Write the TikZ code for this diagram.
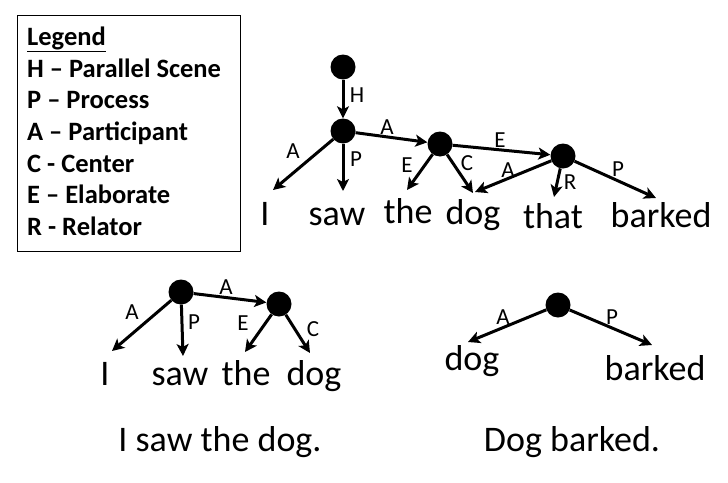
\documentclass[tikz,border=0pt]{standalone}
\usepackage{fontspec}
\setmainfont{Carlito}
\usetikzlibrary{arrows.meta}
\begin{document}
\begin{tikzpicture}[x=1pt,y=-1pt,
  dot/.style={circle,fill=black,inner sep=0pt,minimum size=25pt},
  edge/.style={line width=3pt,-{Stealth[length=12pt,width=12pt,inset=3pt]}},
  word/.style={anchor=base,inner sep=0pt,font=\fontsize{36}{42}\selectfont},
  lab/.style={inner sep=0pt,font=\fontsize{23}{27}\selectfont},
  leg/.style={anchor=base west,inner sep=0pt,font=\fontsize{26.5}{31}\selectfont\bfseries}]
\useasboundingbox (0,0) rectangle (728,482);
% legend
\node[draw,line width=1.2pt,minimum width=223pt,minimum height=236pt,anchor=north west,inner sep=0pt] (legbox) at (17,15) {};
\node[leg] (l0) at (27,45) {\underline{Legend}};
\node[leg] (l1) at (27,77) {H – Parallel Scene};
\node[leg] (l2) at (27,108) {P – Process};
\node[leg] (l3) at (27,140) {A – Participant};
\node[leg] (l4) at (27,172) {C - Center};
\node[leg] (l5) at (27,203) {E – Elaborate};
\node[leg] (l6) at (27,235) {R - Relator};
% main tree
\node[dot] (n1) at (343,67) {};
\node[dot] (n2) at (343,131) {};
\node[dot] (n3) at (440,144) {};
\node[dot] (n4) at (563,156) {};
\coordinate (tI) at (273,190);
\coordinate (tsaw) at (343,191);
\coordinate (tthe) at (407,190);
\coordinate (tdog) at (473,193);
\coordinate (tdogb) at (475,192);
\coordinate (tthat) at (554,197);
\coordinate (tbarked) at (656,198);
\draw[edge] (n1) -- (n2);
\draw[edge] (n2) -- (tI);
\draw[edge] (n2) -- (tsaw);
\draw[edge] (n2) -- (n3);
\draw[edge] (n3) -- (tthe);
\draw[edge] (n3) -- (tdog);
\draw[edge] (n3) -- (n4);
\draw[edge] (n4) -- (tdogb);
\draw[edge] (n4) -- (tthat);
\draw[edge] (n4) -- (tbarked);
\node[lab] (e1) at (357,95) {H};
\node[lab] (e2) at (293,151) {A};
\node[lab] (e3) at (356,159) {P};
\node[lab] (e4) at (387,127) {A};
\node[lab] (e5) at (407,165) {E};
\node[lab] (e6) at (467,163) {C};
\node[lab] (e7) at (500,140) {E};
\node[lab] (e8) at (508,170) {A};
\node[lab] (e9) at (570,182) {R};
\node[lab] (e10) at (618,169) {P};
\node[word] (w1) at (265,225) {I};
\node[word] (w2) at (337,225) {saw};
\node[word] (w3) at (408,223) {the};
\node[word] (w4) at (473,224) {dog};
\node[word] (w5) at (553,228) {that};
\node[word] (w6) at (661,227) {barked};
% second tree
\node[dot] (m1) at (181,292) {};
\node[dot] (m2) at (279,304) {};
\coordinate (uI) at (112,351);
\coordinate (usaw) at (183,356);
\coordinate (uthe) at (245,352);
\coordinate (udog) at (310,353);
\draw[edge] (m1) -- (uI);
\draw[edge] (m1) -- (usaw);
\draw[edge] (m1) -- (m2);
\draw[edge] (m2) -- (uthe);
\draw[edge] (m2) -- (udog);
\node[lab] (f1) at (132,312) {A};
\node[lab] (f2) at (194,322) {P};
\node[lab] (f3) at (226,287) {A};
\node[lab] (f4) at (243,323) {E};
\node[lab] (f5) at (313,329) {C};
\node[word] (v1) at (105,385) {I};
\node[word] (v2) at (180,385) {saw};
\node[word] (v3) at (246,385) {the};
\node[word] (v4) at (314,385) {dog};
% third tree
\node[dot] (k1) at (558,305) {};
\coordinate (sdog) at (468,342);
\coordinate (sbarked) at (652,345);
\draw[edge] (k1) -- (sdog);
\draw[edge] (k1) -- (sbarked);
\node[lab] (g1) at (503,317) {A};
\node[lab] (g2) at (612,317) {P};
\node[word] (x1) at (472,370) {dog};
\node[word] (x2) at (655,380) {barked};
% captions
\node[word] (c1) at (220,451) {I saw the dog.};
\node[word] (c2) at (572,451) {Dog barked.};
\end{tikzpicture}
\end{document}
